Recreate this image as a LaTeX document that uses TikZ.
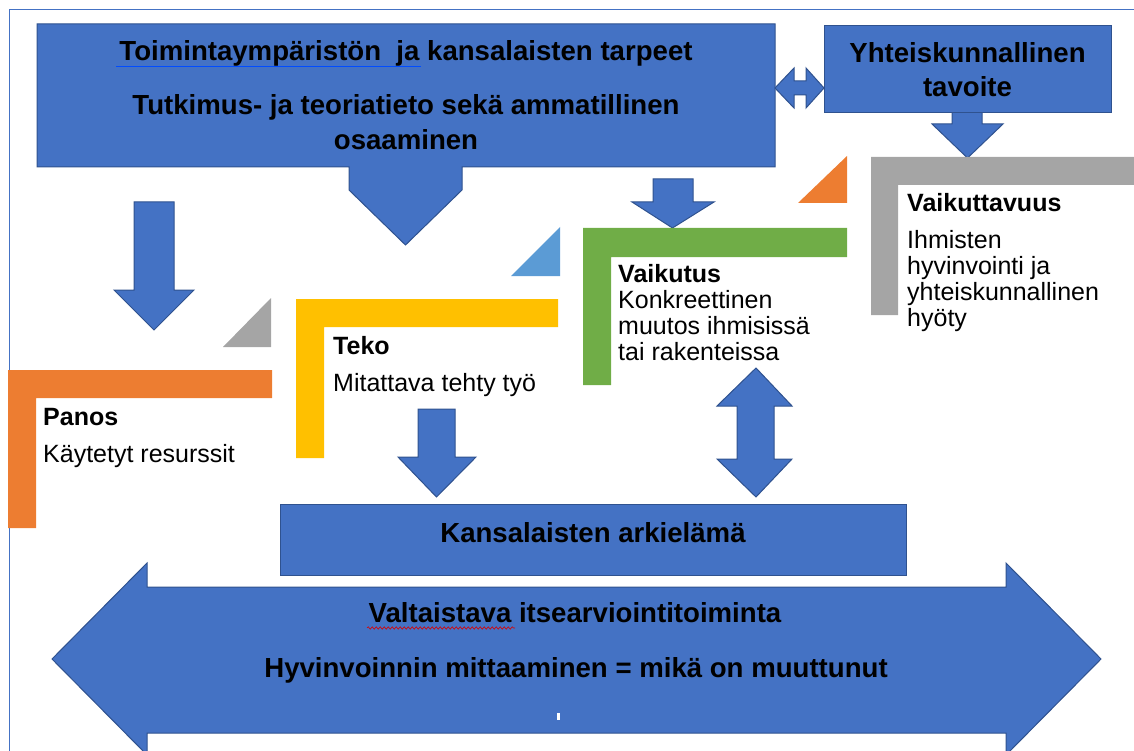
\documentclass[tikz,border=0pt]{standalone}
\usepackage{fontspec}
\setmainfont{Liberation Sans}
\usetikzlibrary{decorations.pathmorphing}
\definecolor{officeblue}{HTML}{4472C4}
\definecolor{officeedge}{HTML}{2F528F}
\definecolor{officeorange}{HTML}{ED7D31}
\definecolor{officegray}{HTML}{A5A5A5}
\definecolor{officeyellow}{HTML}{FFC000}
\definecolor{officegreen}{HTML}{70AD47}
\definecolor{officelightblue}{HTML}{5B9BD5}
\begin{document}
\begin{tikzpicture}[
  x=1pt,
  y=-1pt,
  bluebox/.style={
    fill=officeblue,
    draw=officeedge,
    line width=1pt
  },
  bluearrow/.style={
    fill=officeblue,
    draw=officeedge,
    line width=1pt,
    line join=miter
  },
  heading/.style={
    font=\fontsize{27.6}{35}\selectfont\bfseries,
    align=center,
    inner sep=0pt
  },
  label/.style={
    font=\fontsize{25}{26}\selectfont,
    align=left,
    inner sep=0pt,
    anchor=base west
  }
]
\useasboundingbox (0,0) rectangle (1134,751);

% frame
\draw[officeblue, line width=0.8pt] (1134,9) -- (9,9) -- (9,751);

% top callout (multi-line nodes sit on their last baseline)
\draw[bluebox] (37,24) -- (775,24) -- (775,167) -- (462,167) -- (462,190)
  -- (405.5,245) -- (349,190) -- (349,167) -- (37,167) -- cycle;
\node[heading, anchor=base] (needs) at (406,150) {
  Toimintaympäristön\ \ ja kansalaisten tarpeet\\[19pt]
  Tutkimus- ja teoriatieto sekä ammatillinen\\
  osaaminen
};
\draw[blue!70!cyan, line width=1.2pt] (116,66.5) -- (421,66.5);

% link to the goal
\draw[bluearrow] (775,88) -- (794,68) -- (794,81) -- (806,81) -- (806,68) -- (824,88)
  -- (806,108) -- (806,95) -- (794,95) -- (794,108) -- cycle;

\draw[bluearrow] (952,110) -- (982,110) -- (982,124) -- (1003,124) -- (967.5,158)
  -- (932,124) -- (952,124) -- cycle;
\node[bluebox, heading, minimum width=287pt, minimum height=87pt] (goal) at (967.5,69.5) {
  Yhteiskunnallinen\\[-1pt]
  tavoite
};

% Vaikuttavuus
\fill[officegray] (871,157) -- (1134,157) -- (1134,185) -- (898,185) -- (898,315) -- (871,315) -- cycle;
\node[label] (impact) at (907,326) {
  \textbf{Vaikuttavuus}\\[11pt]
  Ihmisten\\
  hyvinvointi ja\\
  yhteiskunnallinen\\
  hyöty
};
\fill[officeorange] (847,156) -- (847,203) -- (798,203) -- cycle;

% Vaikutus
\draw[bluearrow] (653,179) -- (693,179) -- (693,202) -- (714,202) -- (672.5,228)
  -- (632,202) -- (653,202) -- cycle;
\fill[officegreen] (583,228) -- (847,228) -- (847,257) -- (611,257) -- (611,385) -- (583,385) -- cycle;
\node[label] (effect) at (618,360) {
  \textbf{Vaikutus}\\
  Konkreettinen\\
  muutos ihmisissä\\
  tai rakenteissa
};
\fill[officelightblue] (560,227) -- (560,276) -- (511,276) -- cycle;

% Teko
\fill[officeyellow] (296,299) -- (558,299) -- (558,327) -- (324,327) -- (324,458) -- (296,458) -- cycle;
\node[label] (work) at (333,391) {
  \textbf{Teko}\\[11pt]
  Mitattava tehty työ
};
\fill[officegray] (271,298) -- (271,347) -- (223,347) -- cycle;

% Panos
\draw[bluearrow] (134,202) -- (174,202) -- (174,290) -- (194,290) -- (154,330)
  -- (114,290) -- (134,290) -- cycle;
\fill[officeorange] (8,370) -- (272,370) -- (272,398) -- (36,398) -- (36,528) -- (8,528) -- cycle;
\node[label] (input) at (43,462) {
  \textbf{Panos}\\[11pt]
  Käytetyt resurssit
};

% towards everyday life
\draw[bluearrow] (418,409) -- (455,409) -- (455,457) -- (476,457) -- (436.5,497)
  -- (398,457) -- (418,457) -- cycle;
\draw[bluearrow] (756,368) -- (792,406) -- (774,406) -- (774,459) -- (792,459) -- (756,497)
  -- (717,459) -- (737,459) -- (737,406) -- (717,406) -- cycle;

\node[bluebox, minimum width=626pt, minimum height=71pt] (daily) at (593,539.5) {};
\node[heading, anchor=base] (dailytext) at (593,542) {Kansalaisten arkielämä};

% bottom double arrow
\draw[bluearrow] (52,659) -- (147,563) -- (147,587) -- (1006,587) -- (1006,563) -- (1101,659)
  -- (1006,755) -- (1006,733) -- (147,733) -- (147,755) -- cycle;
\node[heading, anchor=base] (selfeval) at (575,622) {Valtaistava itsearviointitoiminta};
\draw[red!85!black, line width=0.6pt, decorate, decoration={snake, amplitude=1.2pt, segment length=4pt}]
  (367,628) -- (515,628);
\node[heading, anchor=base] (measure) at (576,677) {Hyvinvoinnin mittaaminen = mikä on muuttunut};
\fill[white] (557,713) rectangle (559.5,720);

\end{tikzpicture}
\end{document}
